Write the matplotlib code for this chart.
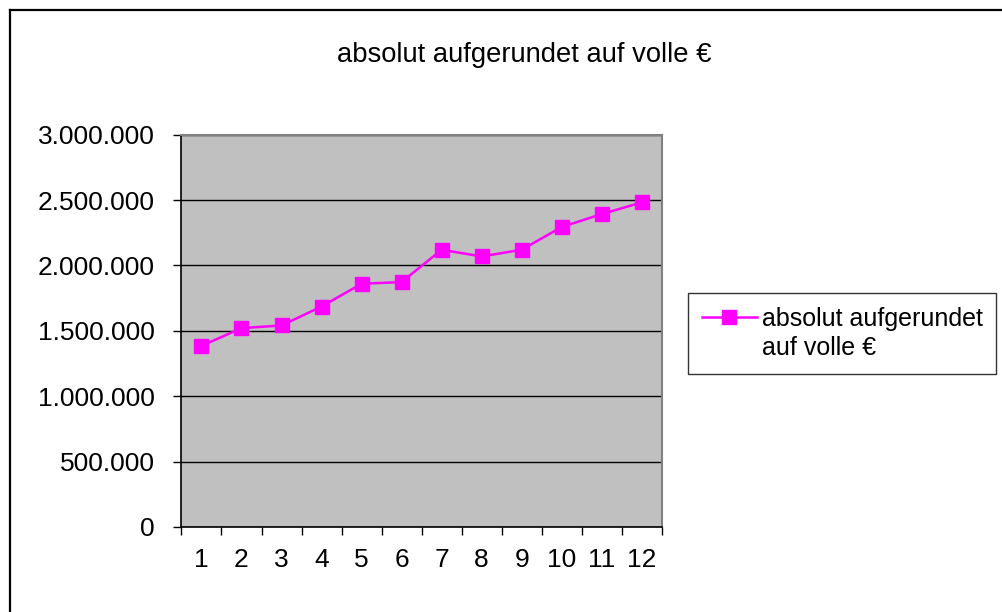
import matplotlib
matplotlib.use("Agg")
import matplotlib.pyplot as plt
from matplotlib.ticker import FuncFormatter, FixedLocator
from matplotlib.lines import Line2D

plt.rcParams['font.family'] = ['Liberation Sans', 'DejaVu Sans']

months = [1, 2, 3, 4, 5, 6, 7, 8, 9, 10, 11, 12]
values = [1385000, 1521000, 1541000, 1686000, 1860000, 1873000,
          2120000, 2069000, 2120000, 2294000, 2393000, 2482000]
series_label = "absolut aufgerundet\nauf volle €"
title = "absolut aufgerundet auf volle €"
yticks = [0, 500000, 1000000, 1500000, 2000000, 2500000, 3000000]

fig = plt.figure(figsize=(10.02, 6.12), dpi=100)
ax = fig.add_axes([0.1811, 0.1389, 0.4793, 0.641])
ax.set_facecolor('#C0C0C0')

ax.plot(months, values, color='#FF00FF', lw=1.8, marker='s', ms=10,
        markeredgecolor='#FF00FF', label=series_label, zorder=3)

ax.set_xlim(0.5, 12.5)
ax.set_ylim(0, 3000000)
ax.set_yticks(yticks)
ax.yaxis.set_major_formatter(FuncFormatter(lambda v, p: f"{int(v):,}".replace(",", ".")))
ax.grid(axis='y', color='#000000', lw=1.0, zorder=1)
ax.set_axisbelow(True)

# category axis: ticks at boundaries, labels at centers
ax.xaxis.set_major_locator(FixedLocator([i + 0.5 for i in range(0, 13)]))
ax.xaxis.set_major_formatter(FuncFormatter(lambda v, p: ""))
ax.xaxis.set_minor_locator(FixedLocator(months))
ax.xaxis.set_minor_formatter(FuncFormatter(lambda v, p: str(int(round(v)))))
ax.tick_params(axis='x', which='major', direction='out', length=6, width=1, color='black')
ax.tick_params(axis='x', which='minor', length=0, pad=15, labelsize=19)
ax.tick_params(axis='y', direction='out', length=6, width=1, pad=13, labelsize=19)

for s in ['left', 'bottom']:
    ax.spines[s].set_color('black')
    ax.spines[s].set_linewidth(1.2)
for s in ['top', 'right']:
    ax.spines[s].set_color('#808080')
    ax.spines[s].set_linewidth(1.5)

fig.text(0.5235, 0.910, title, ha='center', va='center', fontsize=19.7)

leg = fig.legend(loc='upper left', bbox_to_anchor=(688/1002, 1 - 293/612),
                 bbox_transform=fig.transFigure, fontsize=18, frameon=True,
                 fancybox=False, edgecolor='black', handlelength=2.2,
                 handleheight=1.0, handletextpad=0.2, borderpad=0.55,
                 borderaxespad=0)
leg.get_frame().set_linewidth(1.0)
for t in leg.get_texts():
    t.set_linespacing(1.3)
# align the legend symbol with the first text line
try:
    for col in leg._legend_handle_box.get_children():
        for item in col.get_children():
            item.align = 'top'
except Exception:
    pass

# outer chart frame (top and left edges visible)
fig.add_artist(Line2D([9.5/1002, 1.0], [1 - 9.5/612, 1 - 9.5/612],
                      transform=fig.transFigure, color='black', lw=1.6))
fig.add_artist(Line2D([9.5/1002, 9.5/1002], [0, 1 - 9.5/612],
                      transform=fig.transFigure, color='black', lw=1.6))

fig.savefig("out.png", dpi=100)
